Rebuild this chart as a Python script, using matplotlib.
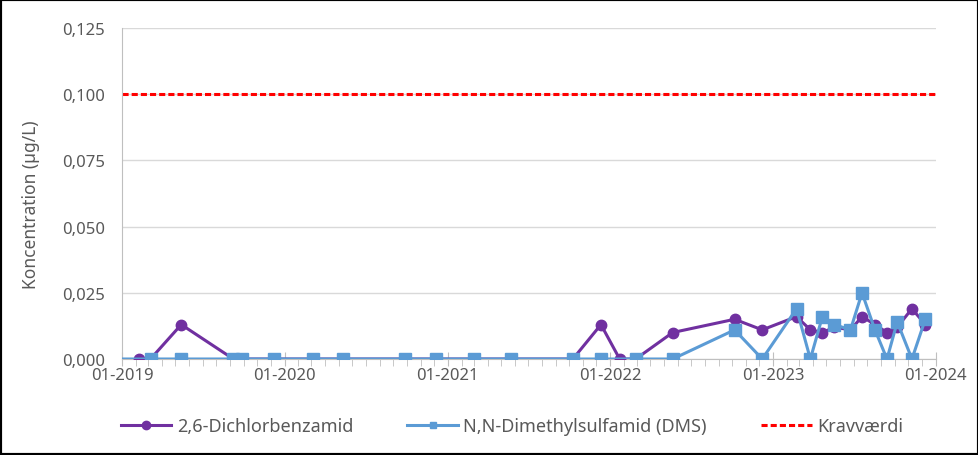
import matplotlib.pyplot as plt
import matplotlib.dates as mdates
import numpy as np
import pandas as pd
from matplotlib.lines import Line2D
from matplotlib.patches import Rectangle
from matplotlib.ticker import FuncFormatter, MultipleLocator

# Sampling dates and measured concentrations (µg/L); None = not analysed
dates = ["2018-11-15", "2019-02-08", "2019-03-06", "2019-05-14", "2019-09-08", "2019-09-28",
         "2019-12-09", "2020-03-04", "2020-05-12", "2020-09-28", "2020-12-06",
         "2021-03-01", "2021-05-23", "2021-10-09", "2021-12-11", "2022-01-22",
         "2022-02-27", "2022-05-21", "2022-10-07", "2022-12-08", "2023-02-23",
         "2023-03-26", "2023-04-22", "2023-05-19", "2023-06-24", "2023-07-20",
         "2023-08-18", "2023-09-14", "2023-10-07", "2023-11-09", "2023-12-09"]

dichlorbenzamid = [None, 0.0, 0.0, 0.013, 0.0, 0.0,
                   0.0, 0.0, 0.0, 0.0, 0.0,
                   0.0, 0.0, 0.0, 0.013, 0.0,
                   0.0, 0.010, 0.015, 0.011, 0.016,
                   0.011, 0.010, 0.012, 0.011, 0.016,
                   0.013, 0.010, 0.012, 0.019, 0.013]

dms = [0.0, None, 0.0, 0.0, 0.0, 0.0,
       0.0, 0.0, 0.0, 0.0, 0.0,
       0.0, 0.0, 0.0, 0.0, None,
       0.0, 0.0, 0.011, 0.0, 0.019,
       0.0, 0.016, 0.013, 0.011, 0.025,
       0.011, 0.0, 0.014, 0.0, 0.015]

kravvaerdi = 0.1

x = pd.to_datetime(dates)
s1 = pd.Series(dichlorbenzamid, index=x, dtype=float).dropna()
s2 = pd.Series(dms, index=x, dtype=float).dropna()

purple, blue, red = "#7030A0", "#5B9BD5", "#FF0000"
text_col = "#595959"
plt.rcParams["font.family"] = ["Noto Sans", "DejaVu Sans"]

fig = plt.figure(figsize=(9.79, 4.56), dpi=100)
ax = fig.add_axes([122 / 979, 1 - 360 / 456, (936 - 122) / 979, (360 - 29) / 456])

x0, x1 = pd.Timestamp("2019-01-01"), pd.Timestamp("2024-01-01")
ax.plot([x0, x1], [kravvaerdi, kravvaerdi], color=red, lw=2.2,
        ls=(0, (2, 1)), zorder=2)
ax.plot(s1.index, s1.values, color=purple, lw=2.2, marker="o", ms=7.5, zorder=3)
ax.plot(s2.index, s2.values, color=blue, lw=2.2, marker="s", ms=9, zorder=4)

ax.set_xlim(x0, x1 + pd.Timedelta(days=1))
ax.set_ylim(0, 0.125)
ax.yaxis.set_major_locator(MultipleLocator(0.025))
ax.yaxis.set_major_formatter(FuncFormatter(lambda v, p: f"{v:.3f}".replace(".", ",")))
ax.xaxis.set_major_locator(mdates.YearLocator())
ax.xaxis.set_minor_locator(mdates.MonthLocator())
ax.xaxis.set_major_formatter(mdates.DateFormatter("%m-%Y"))

ax.grid(axis="y", color="#D9D9D9", lw=1)
ax.set_axisbelow(True)
for side in ["top", "right"]:
    ax.spines[side].set_visible(False)
ax.spines["left"].set_color("#BFBFBF")
ax.spines["bottom"].set_color("#BFBFBF")
ax.tick_params(axis="y", length=0, labelsize=12, labelcolor=text_col, pad=12)
ax.tick_params(axis="x", which="major", length=10, direction="inout", color="#BFBFBF",
               labelsize=12, labelcolor=text_col, pad=1)
ax.tick_params(axis="x", which="minor", length=5, direction="out", color="#BFBFBF")
ax.set_ylabel("Koncentration (µg/L)", fontsize=12.5, color=text_col)
ax.yaxis.set_label_coords(-0.101, 0.47)

handles = [
    Line2D([], [], color=purple, lw=2.2, marker="o", ms=6),
    Line2D([], [], color=blue, lw=2.2, marker="s", ms=5),
    Line2D([], [], color=red, lw=2.2, ls=(0, (2, 1))),
]
labels = ["2,6-Dichlorbenzamid", "N,N-Dimethylsulfamid (DMS)", "Kravværdi"]
fig.legend(handles, labels, loc="center", bbox_to_anchor=(512 / 979, 1 - 427 / 456),
           ncol=3, frameon=False, fontsize=13, labelcolor=text_col,
           handlelength=2.8, columnspacing=3.0, handletextpad=0.3)

fig.patches.append(Rectangle((0, 0), 1, 1, transform=fig.transFigure, fill=False,
                             edgecolor="black", lw=3))

fig.savefig("out.png", dpi=100)
